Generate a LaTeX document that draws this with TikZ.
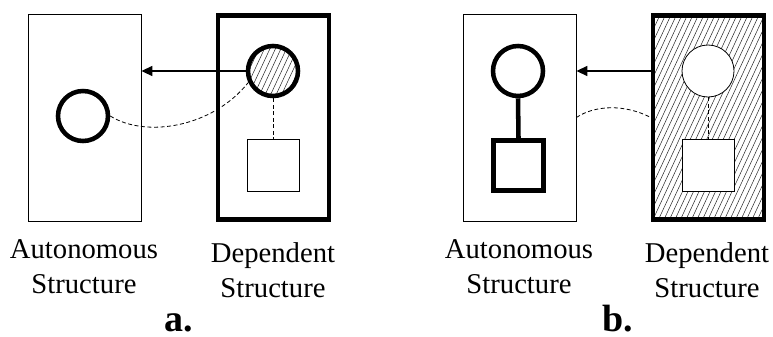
\documentclass[tikz,border=0pt]{standalone}
\usepackage{fontspec}
\setmainfont{Liberation Serif}
\usetikzlibrary{arrows.meta}

\tikzset{
  thinbox/.style={draw, line width=0.6pt, minimum width=84.75pt, minimum height=155.25pt, inner sep=0pt},
  thickbox/.style={draw, line width=3.4pt, minimum width=83.25pt, minimum height=153pt, inner sep=0pt},
  thickcirc/.style={draw, circle, line width=3.4pt, minimum size=37.5pt, inner sep=0pt},
  thincirc/.style={draw, circle, line width=0.6pt, minimum size=39pt, inner sep=0pt, fill=white},
  thinsq/.style={draw, line width=0.6pt, minimum size=39pt, inner sep=0pt, fill=white},
  thicksq/.style={draw, line width=3.4pt, minimum size=37.5pt, inner sep=0pt},
  hatched/.style={path picture={
      \foreach \i in {-30,...,30}
        \draw[line width=0.375pt, black!85]
          ([xshift=\i*4.125pt]path picture bounding box.south west) -- ++(97.5pt,210pt);
    }},
  link/.style={line width=1.05pt, -{Triangle[length=8.25pt,width=7.5pt]}},
  dashlink/.style={line width=0.6pt, dash pattern=on 3pt off 1.9pt},
  label/.style={font=\fontsize{21.5}{26}\selectfont, anchor=base, inner sep=0pt},
  caption/.style={font=\fontsize{28.5}{32}\selectfont\bfseries, anchor=base, inner sep=0pt, text depth=0pt},
}

\begin{document}
\begin{tikzpicture}[x=0.75pt, y=-0.75pt]
  \useasboundingbox (0,0) rectangle (773,336);

  % ---- panel a ----
  \node[thinbox]  (autoA) at (84.5,117.5) {};
  \node[thickbox] (depA)  at (273.5,117.5) {};
  \node[thickcirc] (circA) at (83,116) {};
  \node[thickcirc, fill=white, hatched] (hcircA) at (273,71) {};
  \node[thinsq] (sqA) at (273,165.5) {};

  \draw[link] (hcircA) -- (autoA.east |- hcircA);
  \draw[dashlink] (circA.east) .. controls (145,138) and (212,128) .. (hcircA.205);
  \draw[dashlink] (hcircA.south) -- (sqA.north);

  \node[label] (autA1) at (84,258) {Autonomous};
  \node[label] (autA2) at (84,293) {Structure};
  \node[label] (depA1) at (273,262) {Dependent};
  \node[label] (depA2) at (273,297) {Structure};
  \node[caption] (capA) at (179,331) {a.};

  % ---- panel b ----
  \node[thinbox]  (autoB) at (519.5,117.5) {};
  \node[thickbox, fill=white, hatched] (depB) at (708.5,117.5) {};
  \node[thickcirc] (circB) at (518,71) {};
  \node[thicksq] (sqB) at (518.5,165.5) {};
  \node[thincirc] (wcircB) at (708,71) {};
  \node[thinsq] (wsqB) at (708,165.5) {};

  \draw[line width=3.4pt] (circB.south) -- (sqB.north);
  \draw[dashlink] (wcircB.south) -- (wsqB.north);
  \draw[link] (depB.west |- wcircB) -- (autoB.east |- wcircB);
  \draw[dashlink] (autoB.east) .. controls (595,105) and (625,104) .. (depB.west);

  \node[label] (autB1) at (519,258) {Autonomous};
  \node[label] (autB2) at (519,293) {Structure};
  \node[label] (depB1) at (707,262) {Dependent};
  \node[label] (depB2) at (707,297) {Structure};
  \node[caption] (capB) at (618,331) {b.};
\end{tikzpicture}
\end{document}
